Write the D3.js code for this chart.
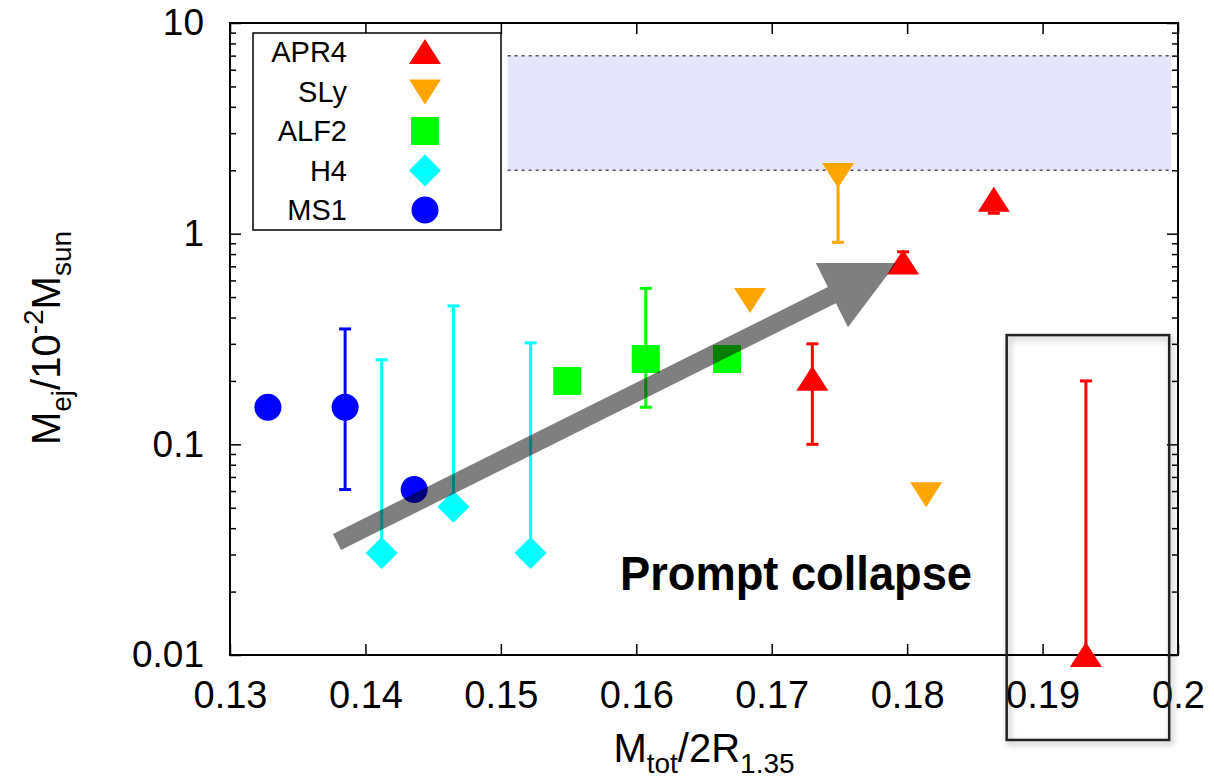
<!DOCTYPE html>
<html>
<head>
<meta charset="utf-8">
<script src="https://cdn.jsdelivr.net/npm/d3@7"></script>
<style>
  body { margin: 0; background: #fff; }
  text { font-family: "Liberation Sans", Arial, sans-serif; }
</style>
</head>
<body>
<svg width="1214" height="779"></svg>
<script>
// series names and colours
var seriesNames = ["APR4", "SLy", "ALF2", "H4", "MS1"];
var seriesColors = ["#ff0000", "#ffa500", "#00ff00", "#00ffff", "#0000ff"];
var seriesShapes = ["up", "down", "square", "diamond", "circle"];

// APR4
var apr4X = [0.1730, 0.1797, 0.1864, 0.1932];
var apr4Y = [0.205, 0.73, 1.45, 0.01];
var apr4Lo = [0.1, 0.73, 1.25, 0.01];
var apr4Hi = [0.3, 0.82, 1.45, 0.2];
// SLy
var slyX = [0.1684, 0.1749, 0.1814];
var slyY = [0.484, 1.9, 0.058];
var slyLo = [0.484, 0.91, 0.058];
var slyHi = [0.484, 1.9, 0.058];
// ALF2
var alf2X = [0.1549, 0.1607, 0.1667];
var alf2Y = [0.2, 0.254, 0.254];
var alf2Lo = [0.2, 0.15, 0.254];
var alf2Hi = [0.2, 0.55, 0.254];
// H4
var h4X = [0.1412, 0.1465, 0.1522];
var h4Y = [0.0305, 0.0505, 0.0305];
var h4Lo = [0.0305, 0.0505, 0.0305];
var h4Hi = [0.252, 0.454, 0.303];
// MS1
var ms1X = [0.1328, 0.1385, 0.1436];
var ms1Y = [0.15, 0.15, 0.061];
var ms1Lo = [0.15, 0.061, 0.061];
var ms1Hi = [0.15, 0.353, 0.061];

// axis ticks
var xTicks = [0.13, 0.14, 0.15, 0.16, 0.17, 0.18, 0.19, 0.2];
var xTickLabels = ["0.13", "0.14", "0.15", "0.16", "0.17", "0.18", "0.19", "0.2"];
var yTicks = [0.01, 0.1, 1, 10];
var yTickLabels = ["0.01", "0.1", "1", "10"];

// annotations
var bandX = [0.1505, 0.1995];
var bandY = [2, 7];
var arrowFrom = [0.1379, 0.0344];
var arrowTo = [0.1792, 0.726];
var boxX = [0.18735, 0.19935];
var boxY = [0.00395, 0.33];
var labelPos = [0.1588, 0.0204];

var svg = d3.select("svg");

var x = d3.scaleLinear().domain([0.13, 0.2]).range([230, 1178]);
var y = d3.scaleLog().domain([0.01, 10]).range([655, 23]);

// shadow for box
var defs = svg.append("defs");
var f = defs.append("filter").attr("id", "shadow").attr("x", "-20%").attr("y", "-20%").attr("width", "140%").attr("height", "140%");
f.append("feDropShadow").attr("dx", 2).attr("dy", 3).attr("stdDeviation", 3)
  .attr("flood-color", "#000").attr("flood-opacity", 0.35);

// band
svg.append("rect")
  .attr("x", x(bandX[0])).attr("y", y(bandY[1]))
  .attr("width", x(bandX[1]) - x(bandX[0]))
  .attr("height", y(bandY[0]) - y(bandY[1]))
  .attr("fill", "#e5e5fb");
bandY.forEach(function(v) {
  svg.append("line")
    .attr("x1", x(bandX[0])).attr("x2", x(bandX[1]))
    .attr("y1", y(v)).attr("y2", y(v))
    .attr("stroke", "#555").attr("stroke-width", 1.5)
    .attr("stroke-dasharray", "3,4");
});

// minor ticks
var minor = [];
[0.01, 0.1, 1].forEach(function(d) {
  for (var k = 2; k <= 9; k++) minor.push(d * k);
});

var axes = svg.append("g");
function styleAxis(g) {
  g.select(".domain").remove();
  g.selectAll(".tick line").attr("stroke", "#000").attr("stroke-width", 1.5);
}
axes.append("g").attr("transform", "translate(230,0)")
  .call(d3.axisLeft(y).tickValues(yTicks).tickSize(-11).tickPadding(26)
    .tickFormat(function(d, i) { return yTickLabels[i]; }))
  .call(styleAxis)
  .selectAll("text").attr("font-size", 37).attr("fill", "#000")
  .attr("font-family", "Liberation Sans, Arial, sans-serif");
axes.append("g").attr("transform", "translate(1178,0)")
  .call(d3.axisRight(y).tickValues(yTicks).tickSize(-11).tickFormat(""))
  .call(styleAxis);
axes.append("g").attr("transform", "translate(230,0)")
  .call(d3.axisLeft(y).tickValues(minor).tickSize(-6).tickFormat(""))
  .call(styleAxis);
axes.append("g").attr("transform", "translate(1178,0)")
  .call(d3.axisRight(y).tickValues(minor).tickSize(-6).tickFormat(""))
  .call(styleAxis);
axes.append("g").attr("transform", "translate(0,655)")
  .call(d3.axisBottom(x).tickValues(xTicks).tickSize(-11).tickPadding(26)
    .tickFormat(function(d, i) { return xTickLabels[i]; }))
  .call(styleAxis)
  .selectAll("text").attr("font-size", 38).attr("fill", "#000")
  .attr("font-family", "Liberation Sans, Arial, sans-serif");
axes.append("g").attr("transform", "translate(0,23)")
  .call(d3.axisTop(x).tickValues(xTicks).tickSize(-11).tickFormat(""))
  .call(styleAxis);
axes.append("rect")
  .attr("x", 230).attr("y", 23).attr("width", 948).attr("height", 632)
  .attr("fill", "none").attr("stroke", "#000").attr("stroke-width", 2);

// symbols
function drawSymbol(g, shape, cx, cy, color) {
  if (shape === "up") {
    g.append("path").attr("d", "M" + cx + "," + (cy - 13) + "L" + (cx + 16) + "," + (cy + 12) + "L" + (cx - 16) + "," + (cy + 12) + "Z").attr("fill", color);
  } else if (shape === "down") {
    g.append("path").attr("d", "M" + cx + "," + (cy + 13) + "L" + (cx + 16) + "," + (cy - 12) + "L" + (cx - 16) + "," + (cy - 12) + "Z").attr("fill", color);
  } else if (shape === "square") {
    g.append("rect").attr("x", cx - 14).attr("y", cy - 14).attr("width", 28).attr("height", 28).attr("fill", color);
  } else if (shape === "diamond") {
    g.append("path").attr("d", "M" + cx + "," + (cy - 16) + "L" + (cx + 16) + "," + cy + "L" + cx + "," + (cy + 16) + "L" + (cx - 16) + "," + cy + "Z").attr("fill", color);
  } else {
    g.append("circle").attr("cx", cx).attr("cy", cy).attr("r", 13.5).attr("fill", color);
  }
}

var allX = [apr4X, slyX, alf2X, h4X, ms1X];
var allY = [apr4Y, slyY, alf2Y, h4Y, ms1Y];
var allLo = [apr4Lo, slyLo, alf2Lo, h4Lo, ms1Lo];
var allHi = [apr4Hi, slyHi, alf2Hi, h4Hi, ms1Hi];

var pts = svg.append("g");
seriesNames.forEach(function(name, s) {
  var c = seriesColors[s];
  allX[s].forEach(function(xv, i) {
    var lo = allLo[s][i], hi = allHi[s][i];
    if (lo !== hi) {
      var px = x(xv);
      pts.append("line").attr("x1", px).attr("x2", px).attr("y1", y(lo)).attr("y2", y(hi))
        .attr("stroke", c).attr("stroke-width", 3);
      [lo, hi].forEach(function(v) {
        if (v !== allY[s][i])
          pts.append("line").attr("x1", px - 6).attr("x2", px + 6).attr("y1", y(v)).attr("y2", y(v))
            .attr("stroke", c).attr("stroke-width", 3);
      });
    }
    drawSymbol(pts, seriesShapes[s], x(xv), y(allY[s][i]), c);
  });
});

// arrow
var ax0 = x(arrowFrom[0]), ay0 = y(arrowFrom[1]), ax1 = x(arrowTo[0]), ay1 = y(arrowTo[1]);
var dx = ax1 - ax0, dy = ay1 - ay0, len = Math.sqrt(dx * dx + dy * dy);
var ux = dx / len, uy = dy / len, nx = -uy, ny = ux;
var headL = 72, headW = 36, shaftW = 9;
var bx = ax1 - ux * headL, by = ay1 - uy * headL;
var arrowPts = [
  [ax0 + nx * shaftW, ay0 + ny * shaftW],
  [bx + nx * shaftW, by + ny * shaftW],
  [bx + nx * headW, by + ny * headW],
  [ax1, ay1],
  [bx - nx * headW, by - ny * headW],
  [bx - nx * shaftW, by - ny * shaftW],
  [ax0 - nx * shaftW, ay0 - ny * shaftW]
];
svg.append("path").attr("d", d3.line()(arrowPts) + "Z")
  .attr("fill", "#000").attr("fill-opacity", 0.5);

// legend
var leg = svg.append("g");
leg.append("rect").attr("x", 253).attr("y", 33).attr("width", 248).attr("height", 197)
  .attr("fill", "#fff").attr("stroke", "#000").attr("stroke-width", 1.5);
seriesNames.forEach(function(name, i) {
  var ly = 52 + i * 39.5;
  leg.append("text").attr("x", 347).attr("y", ly + 10).attr("text-anchor", "end")
    .attr("font-size", 29).text(name);
  drawSymbol(leg, seriesShapes[i], 425, ly, seriesColors[i]);
});

// text label
svg.append("text").attr("x", x(labelPos[0])).attr("y", y(labelPos[1]))
  .attr("font-family", "Open Sans, sans-serif").attr("font-weight", "bold")
  .attr("font-size", 48).attr("fill", "#000")
  .attr("textLength", 352).attr("lengthAdjust", "spacingAndGlyphs")
  .text("Prompt collapse");

// box
svg.append("rect")
  .attr("x", x(boxX[0])).attr("y", y(boxY[1]))
  .attr("width", x(boxX[1]) - x(boxX[0])).attr("height", y(boxY[0]) - y(boxY[1]))
  .attr("fill", "none").attr("stroke", "#222").attr("stroke-width", 2.5)
  .attr("filter", "url(#shadow)");

// axis titles
var xt = svg.append("text").attr("text-anchor", "middle")
  .attr("transform", "translate(704,762)")
  .attr("font-size", 40);
xt.append("tspan").text("M");
xt.append("tspan").attr("font-size", 28).attr("dy", 11).text("tot");
xt.append("tspan").attr("dy", -11).text("/2R");
xt.append("tspan").attr("font-size", 28).attr("dy", 11).text("1.35");

var yt = svg.append("text").attr("text-anchor", "middle")
  .attr("transform", "translate(60,338) rotate(-90)")
  .attr("font-size", 40);
yt.append("tspan").text("M");
yt.append("tspan").attr("font-size", 28).attr("dy", 11).text("ej");
yt.append("tspan").attr("dy", -11).text("/10");
yt.append("tspan").attr("font-size", 28).attr("dy", -17).text("-2");
yt.append("tspan").attr("dy", 17).text("M");
yt.append("tspan").attr("font-size", 28).attr("dy", 11).text("sun");
</script>
</body>
</html>
